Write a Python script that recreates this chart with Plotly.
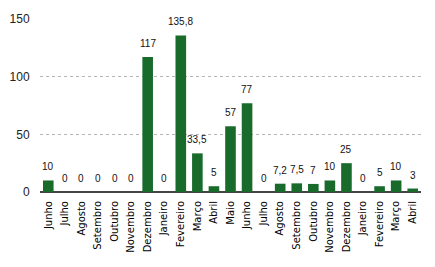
import plotly.graph_objects as go

months = ["Junho", "Julho", "Agosto", "Setembro", "Outubro", "Novembro", "Dezembro",
          "Janeiro", "Fevereiro", "Março", "Abril", "Maio", "Junho", "Julho", "Agosto",
          "Setembro", "Outubro", "Novembro", "Dezembro", "Janeiro", "Fevereiro", "Março", "Abril"]
values = [10, 0, 0, 0, 0, 0, 117, 0, 135.8, 33.5, 5, 57, 77, 0, 7.2, 7.5, 7, 10, 25, 0, 5, 10, 3]
y_ticks = [0, 50, 100, 150]

xs = list(range(len(months)))
labels = [("%g" % v).replace(".", ",") for v in values]

fig = go.Figure(go.Bar(
    x=xs, y=values, marker=dict(color="#196b2c", line=dict(width=0)),
    hoverinfo="skip",
))

for x, v, t in zip(xs, values, labels):
    fig.add_annotation(x=x, y=v, text=t, showarrow=False, yanchor="bottom", yshift=6,
                       font=dict(family="Liberation Sans", size=10, color="#111"))

fig.update_layout(
    width=435, height=267,
    margin=dict(l=40, r=14, t=19, b=75, autoexpand=False),
    paper_bgcolor="white", plot_bgcolor="white",
    bargap=0.36, showlegend=False,
)
fig.update_xaxes(
    tickmode="array", tickvals=xs, ticktext=months, tickangle=-90,
    range=[-0.5, len(months) - 0.5], automargin=False,
    tickfont=dict(family="DejaVu Sans", size=10, color="#000"),
    showgrid=False, zeroline=False, showline=False,
    ticks="outside", ticklen=4, tickcolor="rgba(0,0,0,0)",
)
fig.update_yaxes(
    range=[0, 150], tickvals=y_ticks, automargin=False,
    tickfont=dict(family="Liberation Sans", size=12, color="#222"),
    showgrid=True, gridcolor="#b5b5b5", griddash="dot", gridwidth=1,
    zeroline=True, zerolinecolor="#444", zerolinewidth=1.5,
    ticks="outside", ticklen=7, tickcolor="rgba(0,0,0,0)",
)

fig.write_html("out.html")
